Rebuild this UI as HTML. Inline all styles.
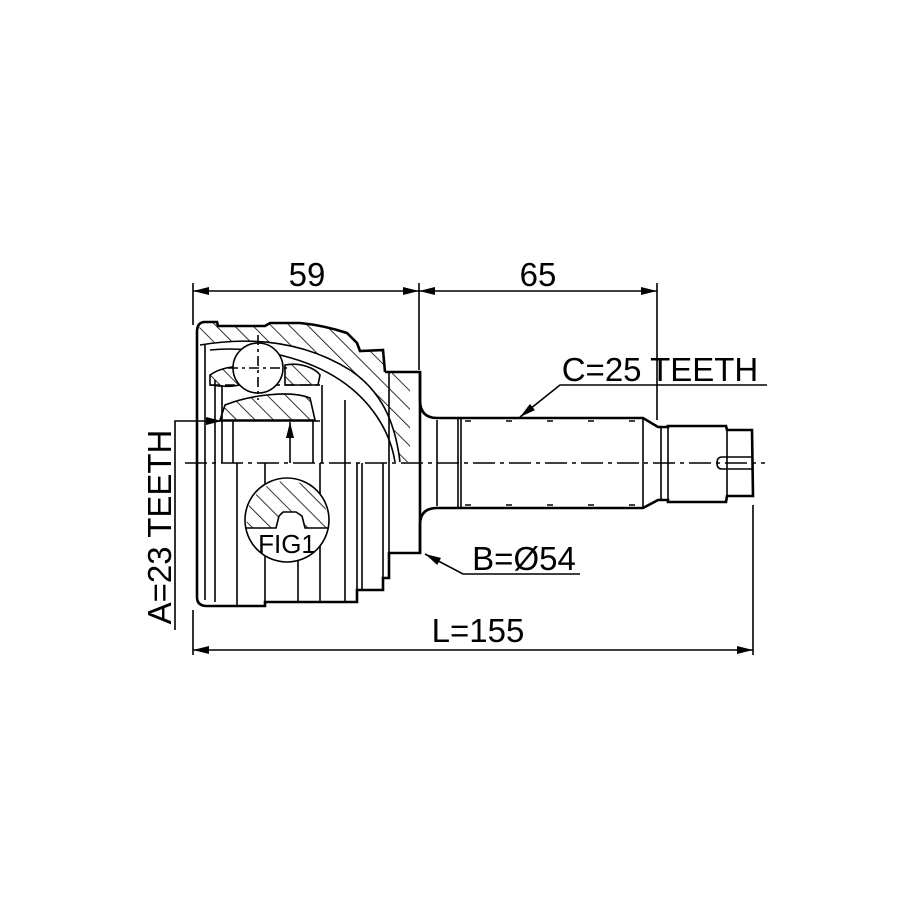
<!DOCTYPE html>
<html><head><style>
html,body{margin:0;padding:0;background:#fff;}
svg{display:block;}
text{font-family:"Liberation Sans",Arial,sans-serif;fill:#000;}
</style></head><body>
<svg width="915" height="915" viewBox="0 0 915 915" xmlns="http://www.w3.org/2000/svg">
<defs>
<pattern id="h" patternUnits="userSpaceOnUse" width="13" height="13" patternTransform="rotate(-45)">
<line x1="0" y1="0" x2="0" y2="13" stroke="#000" stroke-width="1.6"/>
</pattern>
<marker id="ar" markerWidth="16" markerHeight="8" refX="16" refY="4" orient="auto" markerUnits="userSpaceOnUse">
<path d="M0,0 L16,4 L0,8 z" fill="#000"/>
</marker>
<marker id="al" markerWidth="16" markerHeight="8" refX="0" refY="4" orient="auto" markerUnits="userSpaceOnUse">
<path d="M16,0 L0,4 L16,8 z" fill="#000"/>
</marker>
</defs>
<g fill="none" stroke="#000" stroke-width="1.6">
<line x1="193" y1="283" x2="193" y2="325"/>
<line x1="193" y1="610" x2="193" y2="655"/>
<line x1="419" y1="283" x2="419" y2="370"/>
<line x1="657" y1="283" x2="657" y2="420"/>
<line x1="753" y1="505" x2="753" y2="655"/>
<line x1="193" y1="291" x2="419" y2="291" marker-start="url(#al)" marker-end="url(#ar)"/>
<line x1="419" y1="291" x2="657" y2="291" marker-start="url(#al)" marker-end="url(#ar)"/>
<line x1="193" y1="650" x2="753" y2="650" marker-start="url(#al)" marker-end="url(#ar)"/>
<polyline points="767,385 560,385 520,417" marker-end="url(#ar)"/>
<polyline points="580,574 463,574 425,554" marker-end="url(#ar)"/>
<polyline points="175,630 175,421 222,421" marker-end="url(#ar)"/>
<line x1="222" y1="421" x2="320" y2="421"/>
<line x1="290" y1="463" x2="290" y2="422" marker-end="url(#ar)"/>
<line x1="185" y1="463" x2="765" y2="463" stroke-dasharray="22,5,4,5"/>

<path d="M205,322 L217,322 L218,326 L265,326 L270,323 L300,323 C320,325 338,330 347,333 L357,343 L360,351 L383,350 L385,372 L410,374 L410,462 L400,462 C395,420 380,390 350,370 C310,345 260,335 200,345 L197,330 Z" fill="url(#h)" stroke="none"/>
<path d="M205,322 L217,322 L218,326 L265,326 L270,323 L300,323 C320,325 338,330 347,333 L357,343 L360,351 L383,350 L385,372" stroke-width="2.6"/>
<path d="M200,345 C260,335 310,345 350,370 C380,390 395,420 400,462"/>
<path d="M210,350 C260,345 310,360 340,380 C370,400 390,430 395,462"/>
<path d="M220,420 L225,405 C250,395 290,390 310,398 L315,420 Z" fill="url(#h)"/>
<path d="M210,375 C220,368 235,365 245,368 L240,385 C225,388 215,385 210,385 Z" fill="url(#h)"/>
<path d="M285,365 C300,362 315,368 320,375 L318,385 L285,385 Z" fill="url(#h)"/>
<line x1="210" y1="385" x2="320" y2="385" stroke-dasharray="10,5"/>
<circle cx="258" cy="368" r="25" fill="#fff"/>
<line x1="258" y1="335" x2="258" y2="400" stroke-dasharray="10,4,3,4"/>
<line x1="228" y1="368" x2="290" y2="368" stroke-dasharray="10,4,3,4"/>
<path d="M205,322 Q197,322 197,332 L197,597 Q197,606 207,606 L265,606 L265,602 L357,602 L357,590 L383,590 L383,578 L389,578 L389,553 L420,553 L420,372 L385,372" stroke-width="2.6"/>
<line x1="389" y1="372" x2="389" y2="553"/>
<line x1="205" y1="345" x2="205" y2="600"/>
<line x1="215" y1="380" x2="215" y2="602"/>
<line x1="222" y1="385" x2="222" y2="463"/>
<line x1="237" y1="463" x2="237" y2="606"/>
<line x1="265" y1="463" x2="265" y2="602"/>
<line x1="233" y1="421" x2="233" y2="463"/>
<line x1="313" y1="421" x2="313" y2="463"/>
<line x1="298" y1="560" x2="298" y2="602"/>
<line x1="320" y1="463" x2="320" y2="602"/>
<line x1="345" y1="463" x2="345" y2="602"/>
<line x1="357" y1="463" x2="357" y2="602"/>
<line x1="362" y1="463" x2="362" y2="590"/>
<line x1="383" y1="463" x2="383" y2="578"/>
<line x1="345" y1="400" x2="345" y2="463"/>
<line x1="322" y1="385" x2="322" y2="463"/>
<circle cx="287" cy="520" r="42" fill="#fff"/>
<path d="M249,505 A42,42 0 0 1 325,505 L329,528 L305,528 L302,516 L296,512 L283,512 L279,516 L276,528 L246,528 Z" fill="url(#h)" stroke="none"/>
<path d="M246,528 L276,528 L279,516 L283,512 L296,512 L302,516 L305,528 L329,528"/>
<text x="287" y="553" font-size="26" text-anchor="middle" stroke="none">FIG1</text>
<path d="M420,372 L420,400 Q420,418 437,418 L458,418 L643,418 L658,427 L668,427 L668,426 L726,426 L727,430 L752,430 L753,496 L727,496 L726,502 L668,502 L668,500 L658,500 L643,508 L458,508 L437,508 Q420,508 420,525 L420,553" stroke-width="2.6"/>
<line x1="437" y1="420" x2="437" y2="506"/>
<line x1="458" y1="418" x2="458" y2="508"/>
<line x1="461" y1="418" x2="461" y2="508"/>
<line x1="643" y1="418" x2="643" y2="508"/>
<line x1="661" y1="427" x2="661" y2="500"/>
<line x1="668" y1="427" x2="668" y2="500"/>
<line x1="727" y1="430" x2="727" y2="496"/>
<path d="M753,457 L722,457 Q717,457 717,463 Q717,469 722,469 L753,469"/>
<line x1="465" y1="421" x2="640" y2="421" stroke-dasharray="6,35"/>
<line x1="465" y1="505" x2="640" y2="505" stroke-dasharray="6,35"/>
</g>
<g stroke="none">
<text x="307" y="286" font-size="33" text-anchor="middle">59</text>
<text x="538" y="286" font-size="33" text-anchor="middle">65</text>
<text x="660" y="381" font-size="33" text-anchor="middle">C=25 TEETH</text>
<text x="524" y="570" font-size="33" text-anchor="middle">B=Ø54</text>
<text x="478" y="642" font-size="33" text-anchor="middle">L=155</text>
<text transform="translate(171,527) rotate(-90)" font-size="33" text-anchor="middle">A=23 TEETH</text>
</g>
</svg>
</body></html>
